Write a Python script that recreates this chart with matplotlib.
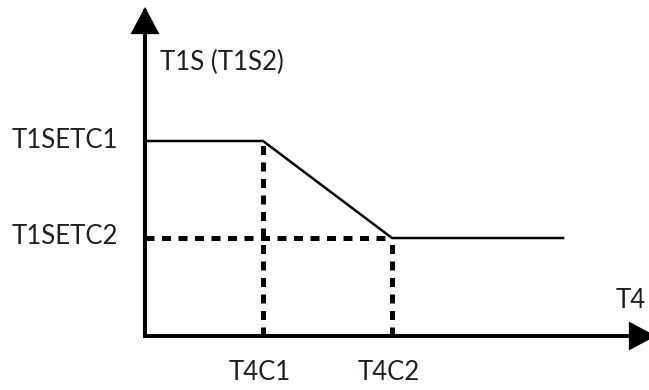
import matplotlib
matplotlib.use("Agg")
import matplotlib.pyplot as plt
from matplotlib.patches import FancyArrowPatch

# schematic values (pixel-like units from the origin)
seg_x = [0, 118, 247, 418]
seg_y = [195, 195, 98, 98]
t4c = [118, 247]          # T4C1, T4C2
t1setc = [195, 98]        # T1SETC1, T1SETC2
x_labels = ["T4C1", "T4C2"]
y_labels = ["T1SETC1", "T1SETC2"]
x_end, y_end = 511, 329

ink = "#231f20"
plt.rcParams['font.family'] = ['Lato', 'DejaVu Sans']

fig = plt.figure(figsize=(6.49, 3.90), dpi=100)
ax = fig.add_axes([0, 0, 1, 1])
ax.set_xlim(-145, 504)
ax.set_ylim(-54, 336)
ax.axis("off")

# axes with arrow heads
for tip in [(x_end, 0), (0, y_end)]:
    ax.add_patch(FancyArrowPatch((0, 0), tip, arrowstyle="-|>,head_length=15,head_width=8",
                                 mutation_scale=1, lw=2.9, color="black",
                                 shrinkA=0, shrinkB=0, joinstyle="miter", capstyle="projecting"))

# dashed guides
dash = (0, (1.8, 1.5))
for xv, yv in zip(t4c, [t1setc[0], t1setc[1]]):
    ax.plot([xv, xv], [0, yv], color="black", lw=3.6, ls=dash)
ax.plot([0, t4c[1]], [t1setc[1], t1setc[1]], color="black", lw=3.6, ls=dash)

ax.plot(seg_x, seg_y, color="black", lw=1.8, solid_joinstyle="miter")

fs = 18.5
for xv, lab in zip(t4c, x_labels):
    ax.text(xv - 3, -36, lab, ha="center", va="center", fontsize=fs, color=ink)
for yv, lab in zip(t1setc, y_labels):
    ax.text(-133, yv + 1, lab, ha="left", va="center", fontsize=fs, color=ink)
ax.text(15, 274, "T1S (T1S2)", ha="left", va="center", fontsize=fs, color=ink)
ax.text(471, 36, "T4", ha="left", va="center", fontsize=fs, color=ink)

fig.savefig("out.png", dpi=100)
